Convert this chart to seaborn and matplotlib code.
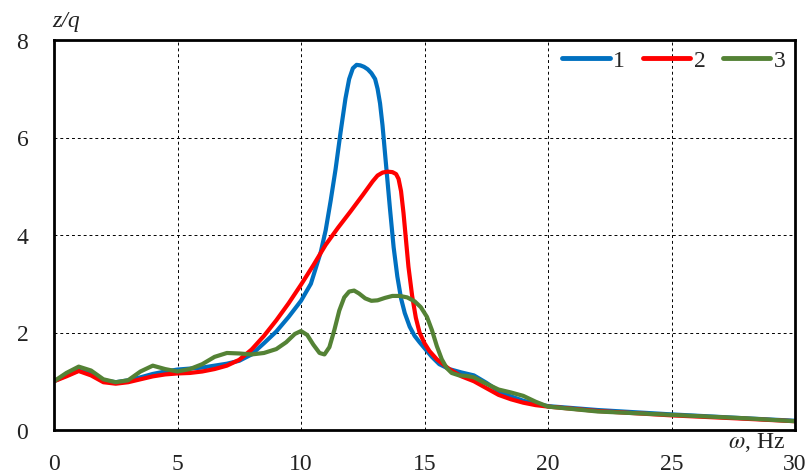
import numpy as np
import pandas as pd
import matplotlib
matplotlib.use("Agg")
import matplotlib.pyplot as plt
import seaborn as sns

# ---- data ----
x1 = [0, 0.5, 1.0, 1.5, 2.0, 2.5, 3.0, 3.5, 4.0, 4.5, 5.0, 5.5, 6.0, 6.5, 7.0, 7.5,
      8.0, 8.5, 9.0, 9.5, 10.0, 10.4, 10.8, 11.0, 11.2, 11.4, 11.6, 11.8, 11.95, 12.1,
      12.25, 12.4, 12.55, 12.7, 12.85, 13.0, 13.1, 13.2, 13.3, 13.45, 13.6, 13.75, 13.9,
      14.05, 14.2, 14.4, 14.6, 14.8, 15.0, 15.3, 15.6, 16.0, 16.5, 17.0, 17.5, 18.0,
      18.5, 19.0, 19.5, 20.0, 22.0, 25.0, 28.0, 30.0]
y1 = [1.0, 1.12, 1.22, 1.15, 1.02, 0.98, 1.02, 1.08, 1.15, 1.2, 1.24, 1.26, 1.28, 1.32,
      1.36, 1.42, 1.55, 1.78, 2.02, 2.32, 2.65, 3.0, 3.65, 4.1, 4.7, 5.35, 6.1, 6.8,
      7.2, 7.42, 7.49, 7.48, 7.45, 7.4, 7.32, 7.2, 7.0, 6.7, 6.25, 5.4, 4.55, 3.75, 3.15,
      2.7, 2.4, 2.12, 1.93, 1.8, 1.68, 1.5, 1.35, 1.25, 1.18, 1.12, 0.97, 0.80, 0.69,
      0.60, 0.54, 0.49, 0.41, 0.32, 0.24, 0.19]

x2 = [0, 0.5, 1.0, 1.5, 2.0, 2.5, 3.0, 3.5, 4.0, 4.5, 5.0, 5.5, 6.0, 6.5, 7.0, 7.5,
      8.0, 8.5, 9.0, 9.5, 10.0, 10.5, 11.0, 11.5, 12.0, 12.5, 12.9, 13.1, 13.3, 13.5,
      13.7, 13.85, 13.95, 14.05, 14.15, 14.25, 14.35, 14.5, 14.65, 14.8, 15.0, 15.2,
      15.5, 16.0, 16.5, 17.0, 17.5, 18.0, 18.5, 19.0, 19.5, 20.0, 22.0, 25.0, 28.0, 30.0]
y2 = [1.0, 1.1, 1.21, 1.12, 0.98, 0.95, 0.98, 1.04, 1.10, 1.14, 1.16, 1.17, 1.2, 1.25,
      1.32, 1.44, 1.65, 1.93, 2.25, 2.6, 2.98, 3.38, 3.8, 4.15, 4.48, 4.82, 5.1, 5.22,
      5.28, 5.3, 5.29, 5.25, 5.15, 4.9, 4.45, 3.9, 3.35, 2.75, 2.3, 2.0, 1.78, 1.62,
      1.45, 1.25, 1.1, 1.0, 0.86, 0.72, 0.63, 0.56, 0.51, 0.48, 0.39, 0.30, 0.23, 0.18]

x3 = [0, 0.5, 1.0, 1.5, 2.0, 2.5, 3.0, 3.5, 4.0, 4.5, 5.0, 5.5, 6.0, 6.5, 7.0, 7.5,
      8.0, 8.5, 9.0, 9.4, 9.75, 10.0, 10.25, 10.5, 10.75, 10.95, 11.15, 11.35, 11.55,
      11.75, 11.95, 12.15, 12.35, 12.6, 12.85, 13.1, 13.4, 13.7, 14.0, 14.3, 14.6, 14.85,
      15.1, 15.3, 15.5, 15.7, 15.9, 16.1, 16.4, 16.7, 17.0, 17.5, 18.0, 18.5, 19.0,
      19.5, 20.0, 22.0, 25.0, 28.0, 30.0]
y3 = [1.0, 1.17, 1.3, 1.22, 1.04, 0.98, 1.02, 1.2, 1.32, 1.25, 1.2, 1.25, 1.35, 1.5,
      1.58, 1.57, 1.55, 1.58, 1.66, 1.8, 1.97, 2.03, 1.95, 1.75, 1.58, 1.55, 1.7, 2.05,
      2.45, 2.72, 2.84, 2.86, 2.8, 2.7, 2.65, 2.66, 2.71, 2.75, 2.75, 2.72, 2.64, 2.52,
      2.32, 2.05, 1.72, 1.45, 1.27, 1.17, 1.12, 1.11, 1.08, 0.95, 0.83, 0.77, 0.70,
      0.58, 0.48, 0.38, 0.31, 0.24, 0.18]

series_names = ["1", "2", "3"]
colors = ["#0070C0", "#FF0000", "#548235"]
x_ticks = [0, 5, 10, 15, 20, 25, 30]
y_ticks = [0, 2, 4, 6, 8]

df = pd.concat([
    pd.DataFrame({"w": x1, "zq": y1, "s": "1"}),
    pd.DataFrame({"w": x2, "zq": y2, "s": "2"}),
    pd.DataFrame({"w": x3, "zq": y3, "s": "3"}),
], ignore_index=True)

sns.set_style("white")
plt.rcParams["font.family"] = ["Liberation Serif", "DejaVu Serif"]
plt.rcParams["mathtext.fontset"] = "stix"

fig = plt.figure(figsize=(8.11, 4.77), dpi=100)
ax = fig.add_axes([54 / 811, 46 / 477, (795 - 54) / 811, (431 - 41) / 477])

sns.lineplot(data=df, x="w", y="zq", hue="s", hue_order=series_names,
             palette=dict(zip(series_names, colors)), linewidth=3,
             sort=False, estimator=None, ax=ax)
for ln in ax.get_lines():
    ln.set_solid_joinstyle("round")
    ln.set_solid_capstyle("round")

ax.set_xlim(0, 30)
ax.set_ylim(0, 8)
ax.set_xticks(x_ticks)
ax.set_yticks(y_ticks)
ax.set_xlabel("")
ax.set_ylabel("")
ax.grid(True, color="black", linestyle=(0, (3, 3)), linewidth=0.7)
ax.set_axisbelow(True)
for sp in ax.spines.values():
    sp.set_visible(True)
    sp.set_color("black")
    sp.set_linewidth(2)
ax.tick_params(axis="both", direction="out", length=6.5, width=1.8, colors="black",
               labelsize=17, labelcolor="#222222")
ax.tick_params(axis="x", pad=10)
ax.tick_params(axis="y", pad=12)

leg = ax.legend(loc="upper right", ncol=3, frameon=False, fontsize=17,
                handlelength=2.0, handletextpad=0.15, columnspacing=0.75,
                bbox_to_anchor=(1.0, 1.0), borderaxespad=0.0)
for line in leg.get_lines():
    line.set_linewidth(3.5)
    line.set_solid_capstyle("round")

fig.text(52 / 811, 1 - 22 / 477, "z/q", fontsize=17, style="italic",
         ha="left", va="center", color="#222222")
fig.text(785 / 811, 1 - 443 / 477, r"$\omega$, Hz", fontsize=17,
         ha="right", va="center", color="#222222")

fig.savefig("out.png", dpi=100)
